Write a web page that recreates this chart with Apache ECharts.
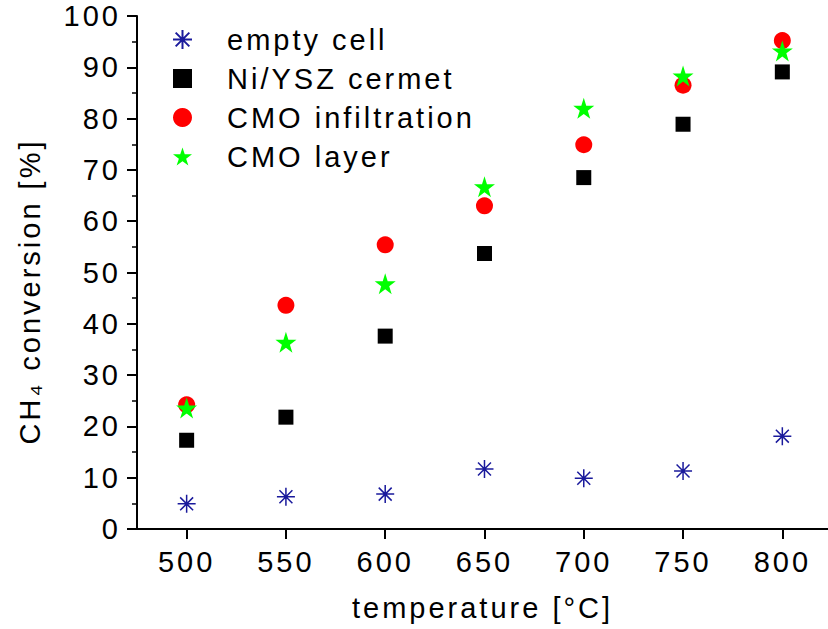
<!DOCTYPE html>
<html>
<head>
<meta charset="utf-8">
<script src="https://cdn.jsdelivr.net/npm/echarts@6.0.0/dist/echarts.min.js"></script>
<style>
    html, body { margin: 0; padding: 0; background: #fff; }
    #chart { width: 828px; height: 629px; }
    #chart svg text { letter-spacing: 3px; }
</style>
</head>
<body>
<div id="chart"></div>
<script>
var temperatures = [500, 550, 600, 650, 700, 750, 800];
var empty_cell = [4.9, 6.3, 6.8, 11.7, 9.9, 11.3, 18.1];
var ni_ysz_cermet = [17.3, 21.8, 37.6, 53.7, 68.5, 78.9, 89.1];
var cmo_infiltration = [24.2, 43.6, 55.4, 63.0, 74.9, 86.5, 95.2];
var cmo_layer = [23.6, 36.4, 47.8, 66.7, 82.0, 88.3, 93.2];
var x_ticks = [500, 550, 600, 650, 700, 750, 800];
var series_names = ['empty cell', 'Ni/YSZ cermet', 'CMO infiltration', 'CMO layer'];

(function() {
    var font = "'Liberation Sans', Arial, sans-serif";
    var star = 'path://M0,-1L0.2245,-0.309L0.951,-0.309L0.3633,0.118L0.5878,0.809L0,0.382L-0.5878,0.809L-0.3633,0.118L-0.951,-0.309L-0.2245,-0.309Z';
    var asterisk = 'path://M0,-1L0,1M-1,0L1,0M-0.72,-0.72L0.72,0.72M-0.72,0.72L0.72,-0.72';

    function pairs(values) {
        return temperatures.map(function(t, i) { return [t, values[i]]; });
    }

    var option = {
        animation: false,
        backgroundColor: '#fff',
        grid: {
            left: 137,
            right: 0,
            top: 16,
            bottom: 100,
        },
        legend: {
            orient: 'vertical',
            left: 167,
            top: 20,
            itemWidth: 19,
            itemHeight: 19,
            itemGap: 10,
            selectedMode: false,
            data: series_names,
            textStyle: {
                fontFamily: font,
                fontSize: 29,
                lineHeight: 29,
                color: '#000',
                padding: [0, 0, 0, 30],
            },
        },
        xAxis: {
            type: 'value',
            min: 475,
            max: 823,
            axisLine: { show: true, onZero: false, lineStyle: { color: '#000', width: 2 } },
            axisTick: { show: true, length: 10, customValues: x_ticks, lineStyle: { color: '#000', width: 2 } },
            axisLabel: { customValues: x_ticks, fontFamily: font, fontSize: 29, color: '#000', margin: 18 },
            splitLine: { show: false },
            name: 'temperature [°C]',
            nameLocation: 'middle',
            nameGap: 64,
            nameTextStyle: { fontFamily: font, fontSize: 29, color: '#000' },
        },
        yAxis: {
            type: 'value',
            min: 0,
            max: 100,
            interval: 10,
            axisLine: { show: true, lineStyle: { color: '#000', width: 2 } },
            axisTick: { show: true, length: 10, lineStyle: { color: '#000', width: 2 } },
            minorTick: { show: true, splitNumber: 2, length: 5, lineStyle: { color: '#000', width: 1.5 } },
            axisLabel: { fontFamily: font, fontSize: 29, color: '#000', margin: 16 },
            splitLine: { show: false },
            minorSplitLine: { show: false },
            name: 'CH₄ conversion [%]',
            nameLocation: 'middle',
            nameGap: 93,
            nameTextStyle: {
                fontFamily: font,
                fontSize: 29,
                color: '#000',
                padding: [0, 38, 0, 0],
            },
        },
        series: [
            {
                name: series_names[0],
                type: 'scatter',
                symbol: asterisk,
                symbolSize: 18,
                itemStyle: { color: 'rgba(0,0,0,0)', borderColor: '#1a1a9c', borderWidth: 1.5, opacity: 1 },
                emphasis: { disabled: true },
                data: pairs(empty_cell),
            },
            {
                name: series_names[1],
                type: 'scatter',
                symbol: 'rect',
                symbolSize: 15,
                itemStyle: { color: '#000', opacity: 1 },
                emphasis: { disabled: true },
                data: pairs(ni_ysz_cermet),
            },
            {
                name: series_names[2],
                type: 'scatter',
                symbol: 'circle',
                symbolSize: 17,
                itemStyle: { color: '#ff0000', opacity: 1 },
                emphasis: { disabled: true },
                data: pairs(cmo_infiltration),
            },
            {
                name: series_names[3],
                type: 'scatter',
                symbol: star,
                symbolSize: 21,
                itemStyle: { color: '#00ff00', opacity: 1 },
                emphasis: { disabled: true },
                data: pairs(cmo_layer),
            },
        ],
    };

    var my_chart = echarts.init(document.getElementById('chart'), null, { renderer: 'svg' });
    my_chart.setOption(option);
})();
</script>
</body>
</html>
